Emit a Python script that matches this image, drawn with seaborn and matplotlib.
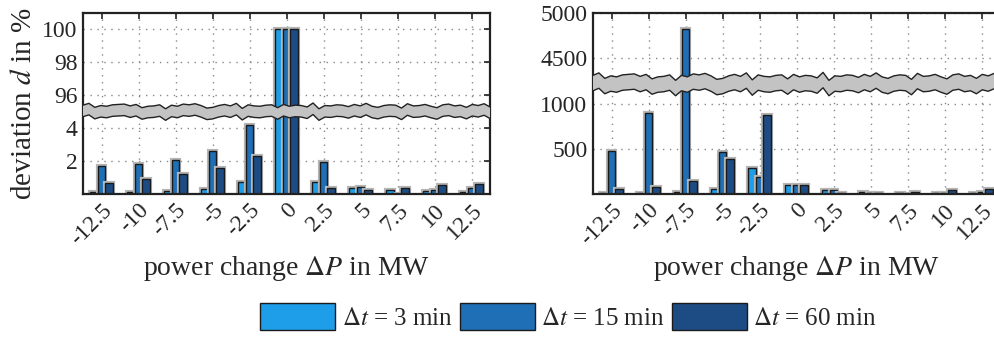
import numpy as np
import pandas as pd
import seaborn as sns
from matplotlib import pyplot as plt
import matplotlib.patches as mpatches
import matplotlib.patheffects as pe

# power change categories (MW)
powers = ['-12.5', '-10', '-7.5', '-5', '-2.5', '0', '2.5', '5', '7.5', '10', '12.5']
dt_labels = ['3 min', '15 min', '60 min']

# left panel: deviation d in %
dev_3 = [0.12, 0.14, 0.22, 0.35, 0.76, 100, 0.77, 0.37, 0.25, 0.18, 0.14]
dev_15 = [1.69, 1.86, 2.08, 2.61, 4.22, 100, 1.96, 0.47, 0.02, 0.25, 0.40]
dev_60 = [0.71, 0.92, 1.22, 1.61, 2.33, 100, 0.40, 0.25, 0.37, 0.55, 0.65]

# right panel: absolute values
abs_3 = [10, 18, 26, 55, 287, 99, 44, 26, 15, 18, 15]
abs_15 = [478, 893, 4820, 470, 195, 99, 51, 18, 3, 18, 29]
abs_60 = [55, 85, 147, 386, 875, 99, 15, 18, 30, 44, 55]

left_ticks = ['2', '4', '96', '98', '100']
right_ticks = ['500', '1000', '4500', '5000']

colors = ['#1e9de8', '#1e6fb6', '#1d4c84']

# wiggle of the axis-break band (decoration only)
band_jitter = [0.4, 0.9, -0.2, 0.3, 0.1, 0.5, 0.6, 0.7, 0.2, 0.6, -0.3, 0.1,
               0.2, 0.5, -0.6, 0.4, 0.1, 0.7, 0.5, 0.8, 0.3, -0.4, -0.2, 0.3,
               0.6, 0.2, 0.9, -0.5, 0.5, 0.2, 0.1, 0.4, 0.5, -0.3, 0.6, 0.1,
               0.4, 0.3, -0.1, 1.0, -0.6, 0.3, 0.2, 0.5, 0.4, 0.0, 0.6, 0.2,
               0.9, 0.1, -0.2, 0.3, 0.5, 0.4, -0.4, 0.8, 0.2, 0.3, 0.6, 0.1,
               -0.3, 0.5, 0.7, 0.2, 0.4, -0.2, 0.6, 0.3, 0.8, -0.1]

sns.set_style('white')
plt.rcParams['font.family'] = ['Liberation Serif', 'DejaVu Serif']
plt.rcParams['mathtext.fontset'] = 'stix'


def make_df(v3, v15, v60, cut, offset):
    rows = []
    for vals, lab in zip([v3, v15, v60], dt_labels):
        for p, v in zip(powers, vals):
            rows.append({'power': p, 'dt': lab, 'value': v,
                         'plot': v if v <= cut else v - offset})
    return pd.DataFrame(rows)


def draw_panel(ax, df, ylim, yticks, yticklabels, band_lo, band_hi, amp):
    sns.barplot(data=df, x='power', y='plot', hue='dt', order=powers,
                hue_order=dt_labels, palette=colors, width=0.63, saturation=1,
                edgecolor='#1a1a1a', linewidth=1, errorbar=None, legend=False, ax=ax)
    for bar in ax.patches:
        bar.set_path_effects([pe.withStroke(linewidth=3, foreground='#b5b5b5')])
    ax.set_ylim(*ylim)
    ax.set_xlim(-0.5, len(powers) - 0.5)
    ax.set_yticks(yticks)
    ax.set_yticklabels(yticklabels)
    ax.set_axisbelow(True)
    ax.grid(True, linestyle=(0, (1, 4)), color='#888888', linewidth=1)
    ax.tick_params(direction='in', top=True, right=True, length=4, width=1.2,
                   color='#222222', labelsize=17, pad=4)
    for s in ax.spines.values():
        s.set_linewidth(1.6)
        s.set_color('#222222')
    plt.setp(ax.get_xticklabels(), rotation=45, ha='right', rotation_mode='anchor')
    ax.set_xlabel(r'power change $\Delta P$ in MW', fontsize=20, labelpad=3)
    # axis break band
    xs = np.linspace(0, 1, len(band_jitter))
    up = [band_hi + j * amp for j in band_jitter]
    lo = [band_lo + j * amp for j in band_jitter]
    trans = ax.get_yaxis_transform()
    ax.fill(np.concatenate([xs, xs[::-1]]), up + lo[::-1], transform=trans,
            facecolor='#c3c3c3', edgecolor='none', zorder=5, clip_on=False)
    ax.plot(xs, up, transform=trans, color='#222222', lw=1, zorder=6, clip_on=False)
    ax.plot(xs, lo, transform=trans, color='#222222', lw=1, zorder=6, clip_on=False)


fig = plt.figure(figsize=(9.94, 3.38), dpi=100)
ax1 = fig.add_axes([83 / 994, 1 - 194.3 / 338, 407 / 994, 181.3 / 338])
ax2 = fig.add_axes([593 / 994, 1 - 194.3 / 338, 407 / 994, 181.3 / 338])

df_dev = make_df(dev_3, dev_15, dev_60, 5, 90)
df_abs = make_df(abs_3, abs_15, abs_60, 1300, 3000)

draw_panel(ax1, df_dev, (0, 11), [2, 4, 6, 8, 10], left_ticks, 4.62, 5.32, 0.22)
draw_panel(ax2, df_abs, (0, 2000), [500, 1000, 1500, 2000], right_ticks, 1120, 1290, 55)
ax1.set_ylabel(r'deviation $d$ in %', fontsize=21, labelpad=4)
ax2.set_ylabel('')

handles = [mpatches.Patch(facecolor=c, edgecolor='#1a1a1a', linewidth=1,
                          label=r'$\Delta t$ = ' + lab) for c, lab in zip(colors, dt_labels)]
fig.legend(handles=handles, loc='center', bbox_to_anchor=(0.572, 0.063), ncol=3,
           frameon=False, fontsize=18, handlelength=3.0, handleheight=1.25,
           handletextpad=0.25, columnspacing=0.3, borderaxespad=0)

fig.savefig('out.png', dpi=100)
